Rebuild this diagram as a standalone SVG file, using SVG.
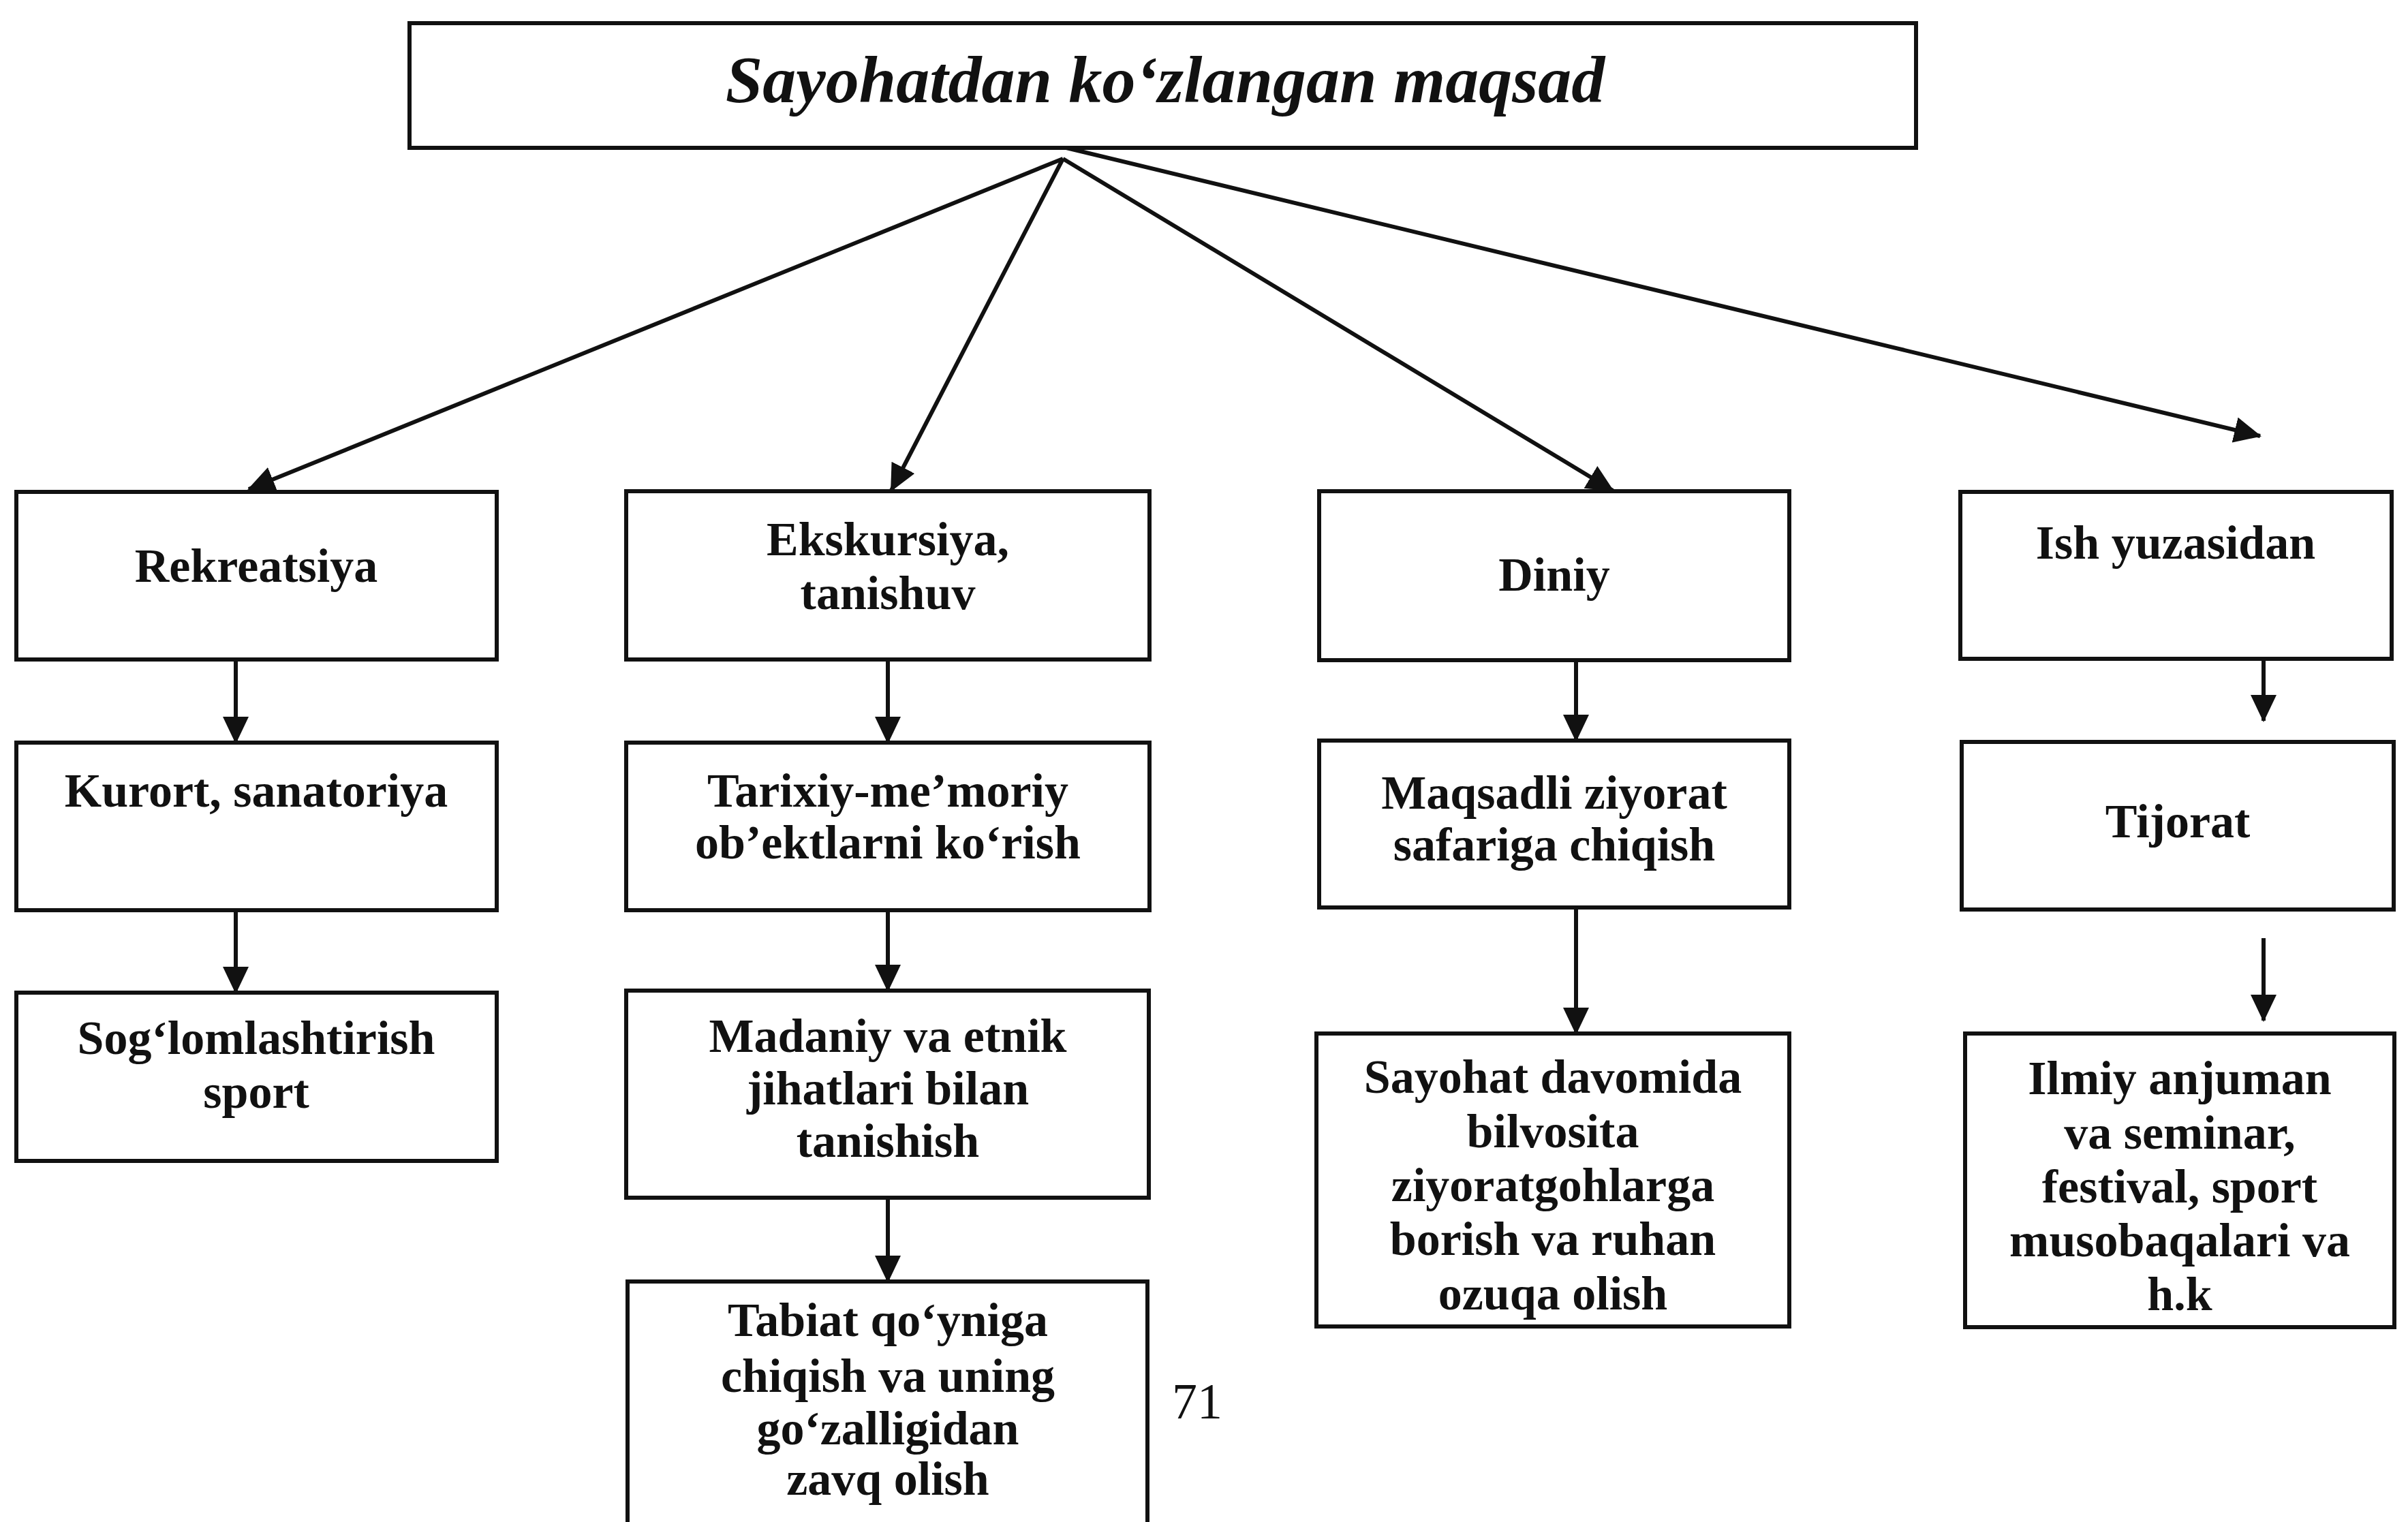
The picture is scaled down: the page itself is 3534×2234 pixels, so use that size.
<svg xmlns="http://www.w3.org/2000/svg" width="3534" height="2234" viewBox="0 0 3534 2234">
<style>
.box{fill:#fff;stroke:#111;stroke-width:6}
.t{font-family:"Liberation Serif","Times New Roman",serif;font-weight:bold;font-size:70px;fill:#111;text-anchor:middle}
.title{font-family:"Liberation Serif","Times New Roman",serif;font-weight:bold;font-style:italic;font-size:98px;fill:#111;text-anchor:middle}
.pg{font-family:"Liberation Serif","Times New Roman",serif;font-size:74px;fill:#111;text-anchor:middle}
.c{stroke:#111;stroke-width:6;fill:none;marker-end:url(#ah)}
</style>
<defs>
<marker id="ah" viewBox="0 0 40 38" refX="38" refY="19" markerWidth="40" markerHeight="38" markerUnits="userSpaceOnUse" orient="auto">
<path d="M0,0 L40,19 L0,38 Z" fill="#111"/>
</marker>
</defs>
<rect width="3534" height="2234" fill="#fff"/>
<g id="connectors">
<line class="c" x1="1560" y1="233" x2="365" y2="718"/>
<line class="c" x1="1560" y1="233" x2="1308" y2="720"/>
<line class="c" x1="1560" y1="233" x2="2367" y2="720"/>
<line class="c" x1="1565" y1="217" x2="3317" y2="640"/>
<line class="c" x1="346" y1="968" x2="346" y2="1090"/>
<line class="c" x1="346" y1="1336" x2="346" y2="1457"/>
<line class="c" x1="1303" y1="968" x2="1303" y2="1090"/>
<line class="c" x1="1303" y1="1336" x2="1303" y2="1454"/>
<line class="c" x1="1303" y1="1758" x2="1303" y2="1881"/>
<line class="c" x1="2313" y1="969" x2="2313" y2="1087"/>
<line class="c" x1="2313" y1="1332" x2="2313" y2="1517"/>
<line class="c" x1="3322" y1="935" x2="3322" y2="1058"/>
<line class="c" x1="3322" y1="1377" x2="3322" y2="1498"/>
</g>
<g id="n-title">
<rect class="box" x="601" y="34" width="2211" height="183"/>
<text class="title" x="1710" y="150">Sayohatdan ko‘zlangan maqsad</text>
</g>
<g id="n-rekreatsiya">
<rect class="box" x="24" y="722" width="705" height="246"/>
<text class="t" x="376" y="854">Rekreatsiya</text>
</g>
<g id="n-ekskursiya">
<rect class="box" x="919" y="721" width="768" height="247"/>
<text class="t" x="1303" y="815">Ekskursiya,</text>
<text class="t" x="1303" y="894">tanishuv</text>
</g>
<g id="n-diniy">
<rect class="box" x="1936" y="721" width="690" height="248"/>
<text class="t" x="2281" y="867">Diniy</text>
</g>
<g id="n-ish">
<rect class="box" x="2877" y="722" width="633" height="245"/>
<text class="t" x="3193" y="820">Ish yuzasidan</text>
</g>
<g id="n-kurort">
<rect class="box" x="24" y="1090" width="705" height="246"/>
<text class="t" x="376" y="1184">Kurort, sanatoriya</text>
</g>
<g id="n-tarixiy">
<rect class="box" x="919" y="1090" width="768" height="246"/>
<text class="t" x="1303" y="1184">Tarixiy-me’moriy</text>
<text class="t" x="1303" y="1260">ob’ektlarni ko‘rish</text>
</g>
<g id="n-maqsadli">
<rect class="box" x="1936" y="1087" width="690" height="245"/>
<text class="t" x="2281" y="1187">Maqsadli ziyorat</text>
<text class="t" x="2281" y="1263">safariga chiqish</text>
</g>
<g id="n-tijorat">
<rect class="box" x="2879" y="1089" width="634" height="246"/>
<text class="t" x="3196" y="1229">Tijorat</text>
</g>
<g id="n-soglom">
<rect class="box" x="24" y="1457" width="705" height="247"/>
<text class="t" x="376" y="1547">Sog‘lomlashtirish</text>
<text class="t" x="376" y="1626">sport</text>
</g>
<g id="n-madaniy">
<rect class="box" x="919" y="1454" width="767" height="304"/>
<text class="t" x="1303" y="1544">Madaniy va etnik</text>
<text class="t" x="1303" y="1621">jihatlari bilan</text>
<text class="t" x="1303" y="1698">tanishish</text>
</g>
<g id="n-sayohat">
<rect class="box" x="1932" y="1517" width="694" height="430"/>
<text class="t" x="2279" y="1604">Sayohat davomida</text>
<text class="t" x="2279" y="1684">bilvosita</text>
<text class="t" x="2279" y="1763">ziyoratgohlarga</text>
<text class="t" x="2279" y="1842">borish va ruhan</text>
<text class="t" x="2279" y="1922">ozuqa olish</text>
</g>
<g id="n-ilmiy">
<rect class="box" x="2884" y="1517" width="630" height="431"/>
<text class="t" x="3199" y="1606">Ilmiy anjuman</text>
<text class="t" x="3199" y="1686">va seminar,</text>
<text class="t" x="3199" y="1765">festival, sport</text>
<text class="t" x="3199" y="1844">musobaqalari va</text>
<text class="t" x="3199" y="1923">h.k</text>
</g>
<g id="n-tabiat">
<rect class="box" x="921" y="1881" width="763" height="380"/>
<text class="t" x="1303" y="1961">Tabiat qo‘yniga</text>
<text class="t" x="1303" y="2043">chiqish va uning</text>
<text class="t" x="1303" y="2120">go‘zalligidan</text>
<text class="t" x="1303" y="2194">zavq olish</text>
</g>
<text class="pg" x="1757" y="2082">71</text>
</svg>
